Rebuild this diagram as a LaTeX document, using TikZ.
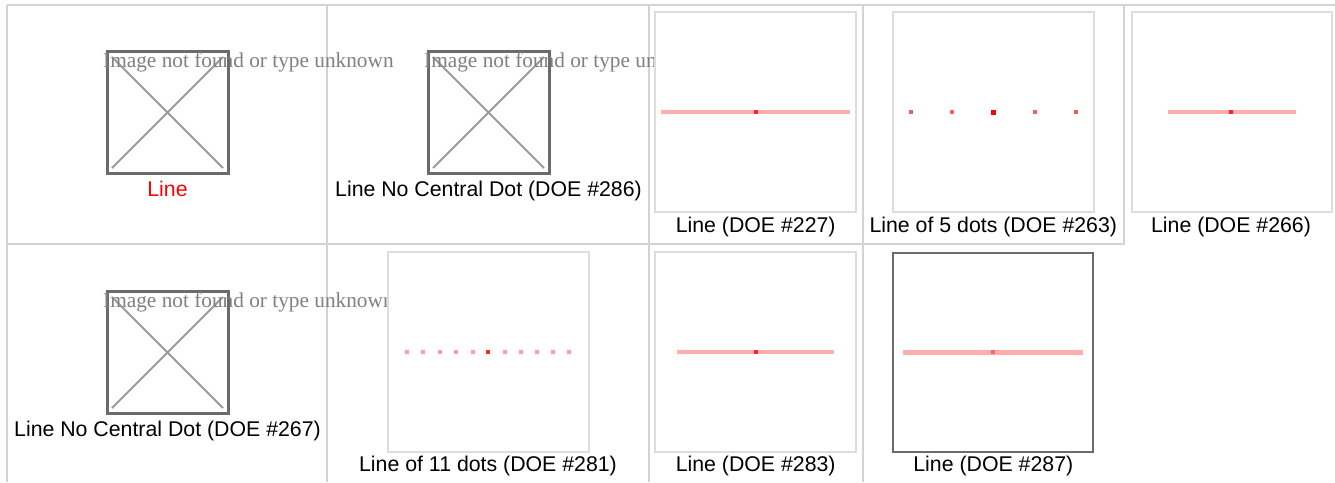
\documentclass[tikz,border=0pt]{standalone}
\usepackage{fontspec}
\setmainfont{Liberation Serif}
\newfontfamily\arialf{Liberation Sans}
\definecolor{gridc}{HTML}{D3D3D3}
\definecolor{bbox}{HTML}{6B6B6B}
\definecolor{xgray}{HTML}{9A9A9A}
\definecolor{mgray}{HTML}{808080}
\definecolor{boxgray}{HTML}{DDDDDD}
\definecolor{pinkred}{HTML}{FFAEAE}
\definecolor{dotred}{HTML}{F52A2A}
\definecolor{dotpink}{HTML}{FF5A5A}
\definecolor{dotlight}{HTML}{FFA0A0}
\tikzset{
  gridline/.style={draw=gridc, line width=1.6pt},
  brokenbox/.style={draw=bbox, line width=3pt},
  xline/.style={draw=xgray, line width=1.9pt},
  missing/.style={font=\fontsize{21.3}{24}\selectfont, text=mgray, anchor=base west, inner sep=0pt},
  lab/.style={font=\arialf\fontsize{21.3}{24}\selectfont, anchor=base, inner sep=0pt},
  imgbox/.style={draw=boxgray, line width=1.8pt, fill=white},
  darkbox/.style={draw=bbox, line width=2.2pt, fill=white},
  redline/.style={draw=pinkred, line width=4.6pt},
}
\begin{document}
\begin{tikzpicture}[x=1pt,y=-1pt]
\useasboundingbox (0,0) rectangle (1335,482);
\fill[white] (0,0) rectangle (1335,482);
% grid
\draw[gridline] (7,5) -- (1335,5);
\draw[gridline] (7,244) -- (1125,244);
\draw[gridline] (7,5) -- (7,482);
\draw[gridline] (327,5) -- (327,482);
\draw[gridline] (649,5) -- (649,482);
\draw[gridline] (863,5) -- (863,482);
\draw[gridline] (1124,5) -- (1124,244);

% broken images
\foreach \dx/\dy in {0/0, 321/0, 0/240}{
  \draw[brokenbox] (107+\dx,51+\dy) rectangle (228+\dx,173+\dy);
  \draw[xline] (112+\dx,57+\dy) -- (223+\dx,168+\dy);
  \draw[xline] (112+\dx,168+\dy) -- (223+\dx,57+\dy);
}
\node[missing] (m1) at (103,67) {Image not found or type unknown};
\node[missing] (m2) at (424,67) {Image not found or type unknown};
\node[missing] (m3) at (103,307) {Image not found or type unknown};

% top row images
\draw[imgbox] (655,12) rectangle (856,212);
\draw[redline] (661,112) -- (850,112);
\fill[dotred] (753.7,110) rectangle (757.7,114);

\draw[imgbox] (893,12) rectangle (1094,212);
\foreach \x in {910.7,951.7,1035,1076}{
  \fill[dotpink] (\x-2,110) rectangle (\x+2,114);
}
\fill[red] (990.8,109.5) rectangle (995.8,114.5);

\draw[imgbox] (1132,12) rectangle (1332,212);
\draw[redline] (1168,112) -- (1296,112);
\fill[dotred] (1229,110) rectangle (1233,114);

% bottom row images
\draw[imgbox] (388,252) rectangle (589,452);
\foreach \x in {407.3,423.3,440,456,472.7,505,521,536.7,553.3,569.3}{
  \fill[dotlight] (\x-2,350.3) rectangle (\x+2,354.3);
}
\fill[dotred] (486.3,350.2) rectangle (490.3,354.2);

\draw[imgbox] (655,252) rectangle (856,452);
\draw[redline] (677,352) -- (834,352);
\fill[dotred] (753.7,350) rectangle (757.7,354);

\draw[darkbox] (893.3,252.7) rectangle (1093.3,452);
\draw[redline] (903.3,352.3) -- (1083.3,352.3);
\fill[red!60] (991.3,350.3) rectangle (995.3,354.3);

% labels
\node[lab, text=red] (l1) at (167.5,196.7) {Line};
\node[lab] (l2) at (488.5,196.7) {Line No Central Dot (DOE \#286)};
\node[lab] (l3) at (755.7,232) {Line (DOE \#227)};
\node[lab] (l4) at (993.3,232) {Line of 5 dots (DOE \#263)};
\node[lab] (l5) at (1231,232) {Line (DOE \#266)};
\node[lab] (l6) at (167.5,436.7) {Line No Central Dot (DOE \#267)};
\node[lab] (l7) at (488,471.7) {Line of 11 dots (DOE \#281)};
\node[lab] (l8) at (755.7,471.7) {Line (DOE \#283)};
\node[lab] (l9) at (993.3,471.7) {Line (DOE \#287)};
\end{tikzpicture}
\end{document}
